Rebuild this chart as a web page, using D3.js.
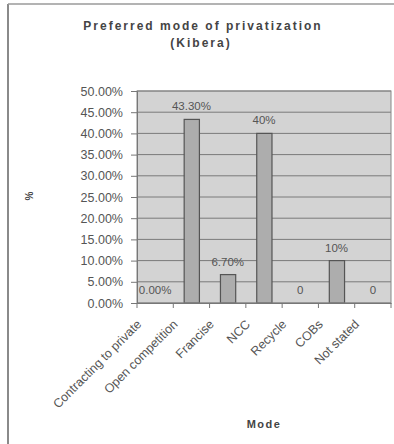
<!DOCTYPE html>
<html>
<head>
<meta charset="utf-8">
<script src="https://cdn.jsdelivr.net/npm/d3@7"></script>
<style>
  body { margin: 0; background: #fff; }
  text { font-family: "Liberation Sans", Arial, sans-serif; }
</style>
</head>
<body>
<div id="chart"></div>
<script>
'use strict';

var categories = ['Contracting to private', 'Open competition', 'Francise', 'NCC', 'Recycle', 'COBs', 'Not stated'];
var values = [0, 43.3, 6.7, 40, 0, 10, 0];
var valueLabels = ['0.00%', '43.30%', '6.70%', '40%', '0', '10%', '0'];
var yTicks = [0, 5, 10, 15, 20, 25, 30, 35, 40, 45, 50];

var w, h, svg, x, y, plot, plotLeft, plotRight, plotTop, plotBottom;

w = 394;
h = 444;
plotLeft = 137;
plotRight = 391;
plotTop = 91;
plotBottom = 303;

svg = d3.select('#chart')
  .append('svg')
  .attr('width', w)
  .attr('height', h);

// frame
svg.append('line')
  .attr('x1', 8).attr('y1', 4).attr('x2', 8).attr('y2', h)
  .attr('stroke', '#8a8a8a').attr('stroke-width', 2);
svg.append('line')
  .attr('x1', 8).attr('y1', 4).attr('x2', w).attr('y2', 4)
  .attr('stroke', '#9a9a9a').attr('stroke-width', 1.5);

// title
svg.append('text')
  .attr('x', 203).attr('y', 30)
  .attr('text-anchor', 'middle')
  .attr('font-size', 12).attr('font-weight', 'bold')
  .attr('letter-spacing', 2)
  .attr('fill', '#444')
  .text('Preferred mode of privatization');
svg.append('text')
  .attr('x', 201).attr('y', 47)
  .attr('text-anchor', 'middle')
  .attr('font-size', 12).attr('font-weight', 'bold')
  .attr('letter-spacing', 2)
  .attr('fill', '#444')
  .text('(Kibera)');

x = d3.scaleBand()
  .domain(categories)
  .range([plotLeft, plotRight]);

y = d3.scaleLinear()
  .domain([0, 50])
  .range([plotBottom, plotTop]);

// plot background
svg.append('rect')
  .attr('x', plotLeft).attr('y', plotTop)
  .attr('width', plotRight - plotLeft).attr('height', plotBottom - plotTop)
  .attr('fill', '#d3d3d3');

// gridlines
svg.append('g')
  .selectAll('line')
  .data(yTicks)
  .join('line')
  .attr('x1', plotLeft).attr('x2', plotRight)
  .attr('y1', function(d) { return y(d); })
  .attr('y2', function(d) { return y(d); })
  .attr('stroke', '#7a7a7a')
  .attr('stroke-width', 1);

// bars
plot = svg.append('g');
plot.selectAll('rect')
  .data(values)
  .join('rect')
  .attr('x', function(d, i) { return x(categories[i]) + x.bandwidth() * 0.3; })
  .attr('y', function(d) { return y(d); })
  .attr('width', x.bandwidth() * 0.42)
  .attr('height', function(d) { return plotBottom - y(d); })
  .attr('fill', '#adadad')
  .attr('stroke', '#555')
  .attr('stroke-width', 1.2);

// value labels
plot.selectAll('text')
  .data(values)
  .join('text')
  .attr('x', function(d, i) { return x(categories[i]) + x.bandwidth() / 2; })
  .attr('y', function(d) { return y(d) - 9; })
  .attr('text-anchor', 'middle')
  .attr('font-size', 11.5)
  .attr('fill', '#555')
  .text(function(d, i) { return valueLabels[i]; });

// plot border
svg.append('rect')
  .attr('x', plotLeft).attr('y', plotTop)
  .attr('width', plotRight - plotLeft).attr('height', plotBottom - plotTop)
  .attr('fill', 'none')
  .attr('stroke', '#888');

// y axis
svg.append('g')
  .attr('transform', 'translate(' + plotLeft + ',0)')
  .call(d3.axisLeft(y)
    .tickValues(yTicks)
    .tickSize(6)
    .tickPadding(8)
    .tickFormat(function(d) { return d.toFixed(2) + '%'; }))
  .call(function(g) {
    g.select('.domain').attr('stroke', '#777');
    g.selectAll('.tick line').attr('stroke', '#777');
    g.selectAll('text')
      .attr('font-size', 12.5)
      .attr('fill', '#555')
      .style('font-family', '"Liberation Sans", Arial, sans-serif');
  });

// x axis
svg.append('g')
  .attr('transform', 'translate(0,' + plotBottom + ')')
  .call(d3.axisBottom(x).tickSize(0).tickFormat(''))
  .call(function(g) {
    g.select('.domain').attr('stroke', '#777');
  });

svg.append('g')
  .selectAll('line')
  .data(categories.concat(['end']))
  .join('line')
  .attr('x1', function(d, i) { return plotLeft + i * x.step(); })
  .attr('x2', function(d, i) { return plotLeft + i * x.step(); })
  .attr('y1', plotBottom)
  .attr('y2', plotBottom + 5)
  .attr('stroke', '#777');

// x labels
svg.append('g')
  .selectAll('text')
  .data(categories)
  .join('text')
  .attr('transform', function(d) {
    return 'translate(' + (x(d) + x.bandwidth() / 2 - 13) + ',' + (plotBottom + 22) + ') rotate(-45)';
  })
  .attr('text-anchor', 'end')
  .attr('font-size', 12.5)
  .attr('fill', '#555')
  .text(function(d) { return d; });

// axis titles
svg.append('text')
  .attr('x', 264).attr('y', 428)
  .attr('text-anchor', 'middle')
  .attr('font-size', 11).attr('font-weight', 'bold')
  .attr('letter-spacing', 1.5)
  .attr('fill', '#444')
  .text('Mode');
svg.append('text')
  .attr('transform', 'translate(33,196) rotate(-90)')
  .attr('text-anchor', 'middle')
  .attr('font-size', 10).attr('font-weight', 'bold')
  .attr('fill', '#444')
  .text('%');
</script>
</body>
</html>
